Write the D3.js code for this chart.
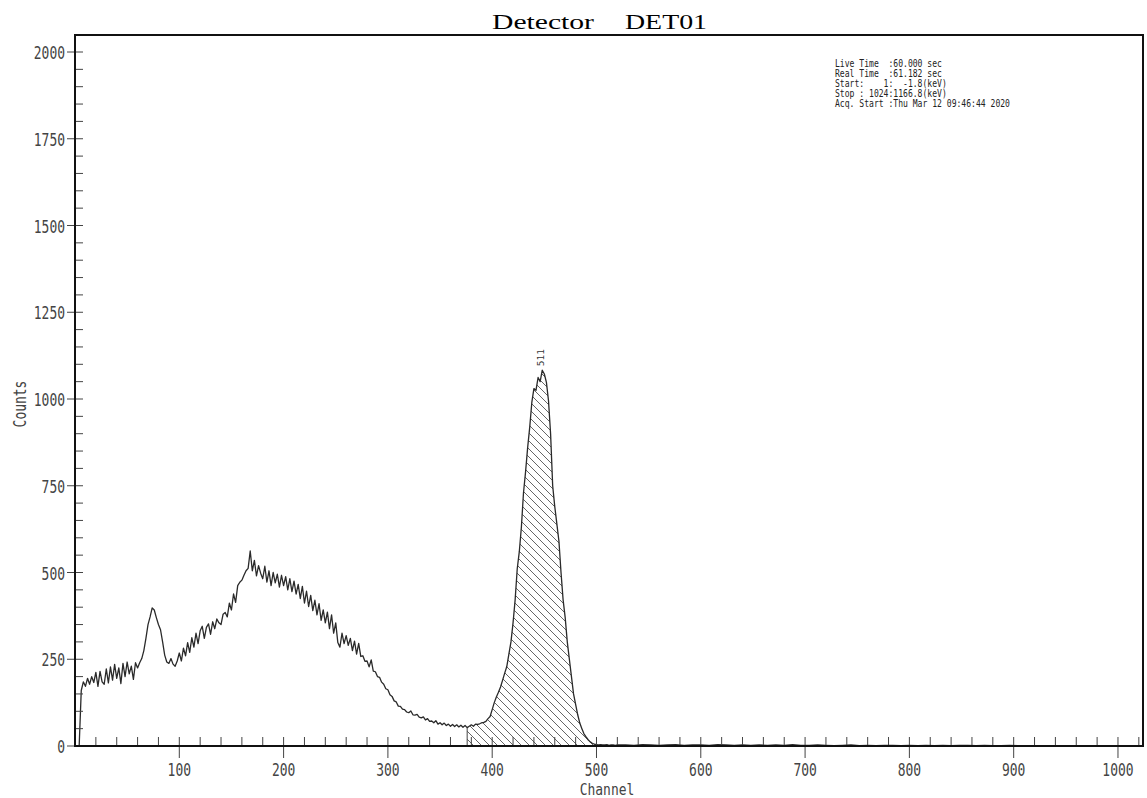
<html>
<head>
<script src="https://d3js.org/d3.v7.min.js" charset="utf-8"></script>
<style>
  body{ margin:0; background:#fff; }
  text{ white-space:pre; }
</style>
</head>
<body>
<script>
// counts for channels 0,2,4 ... 520
const counts = [
  0, 0, 0, 160, 185, 172, 195, 178, 200, 183,
  212, 172, 215, 185, 178, 222, 182, 228, 190, 235,
  195, 225, 180, 238, 200, 242, 208, 230, 192, 240,
  225, 240, 252, 275, 310, 350, 372, 398, 392, 370,
  350, 335, 300, 262, 242, 238, 252, 236, 230, 245,
  268, 245, 282, 260, 298, 270, 312, 285, 325, 295,
  332, 345, 310, 342, 352, 322, 358, 338, 366, 355,
  350, 380, 385, 372, 412, 392, 438, 414, 462, 472,
  478, 492, 505, 512, 562, 505, 535, 490, 520, 498,
  482, 518, 472, 505, 462, 500, 470, 495, 458, 492,
  462, 488, 450, 482, 445, 475, 438, 466, 425, 460,
  412, 446, 402, 434, 390, 420, 378, 410, 362, 392,
  355, 386, 338, 378, 325, 355, 298, 285, 325, 295,
  318, 290, 310, 275, 302, 265, 296, 258, 260, 244,
  245, 228, 248, 216, 214, 200, 198, 184, 178, 165,
  162, 148, 143, 130, 127, 115, 114, 106, 105, 98,
  96, 101, 90, 89, 91, 83, 81, 84, 75, 79,
  71, 72, 67, 73, 63, 67, 61, 66, 59, 63,
  57, 62, 56, 61, 55, 60, 54, 59, 53, 57,
  61, 57, 63, 62, 64, 67, 68, 71, 79, 85,
  105, 125, 141, 155, 170, 190, 210, 229, 265, 300,
  355, 421, 510, 560, 631, 729, 790, 860, 919, 990,
  1030, 1025, 1062, 1050, 1083, 1072, 1048, 995, 900, 750,
  690, 640, 590, 500, 421, 370, 300, 250, 200, 150,
  120, 90, 66, 50, 35, 26, 18, 12, 8, 5,
  4, 3, 4, 3, 3, 4, 2, 3, 3, 2,
  3
];
// tail, channels 528,536 ... 1024
const tailCounts = [
  3, 2, 4, 3, 2, 3, 4, 2, 3, 3, 2, 4, 3, 2, 3, 2, 3, 2, 3, 2,
  4, 2, 2, 3, 2, 1, 2, 3, 1, 2, 1, 2, 2, 1, 2, 1, 2, 1, 2, 1,
  2, 2, 1, 2, 1, 1, 2, 1, 1, 1, 0, 1, 1, 0, 1, 0, 1, 0, 1, 0,
  1, 0, 0
];
const roi = [376, 500];
const peakLabel = {ch: 447, count: 1083, text: '511'};
const xMajor = [100, 200, 300, 400, 500, 600, 700, 800, 900, 1000];
const yMajor = [0, 250, 500, 750, 1000, 1250, 1500, 1750, 2000];
const info = [
  'Live Time  :60.000 sec',
  'Real Time  :61.182 sec',
  'Start:    1:  -1.8(keV)',
  'Stop : 1024:1166.8(keV)',
  'Acq. Start :Thu Mar 12 09:46:44 2020'
];

const W = 1147, H = 798;
const pL = 75, pR = 1143, pT = 35, pB = 746;

const data = counts.map((c, i) => [i * 2, c])
  .concat(tailCounts.map((c, i) => [528 + i * 8, c]));

const x = d3.scaleLinear().domain([0, 1024]).range([pL, pR]);
const y = d3.scaleLinear().domain([0, 2000]).range([pB, 52]);

const svg = d3.select('body').append('svg')
  .attr('width', W).attr('height', H)
  .style('background', '#fff');

const mono = 'DejaVu Sans Mono';
const cw = 7.8;   // squeezed char width for axis text

// hatch
const pat = svg.append('defs').append('pattern')
  .attr('id', 'hatch').attr('patternUnits', 'userSpaceOnUse')
  .attr('width', 8).attr('height', 8);
pat.append('path')
  .attr('d', 'M0,0 L8,8 M-2,6 L2,10 M6,-2 L10,2')
  .attr('stroke', '#555').attr('stroke-width', 0.9);

const roiData = data.filter(d => d[0] >= roi[0] && d[0] <= roi[1]);
svg.append('path')
  .datum(roiData)
  .attr('d', d3.area().x(d => x(d[0])).y0(y(0)).y1(d => y(d[1])))
  .attr('fill', 'url(#hatch)');
svg.append('line')
  .attr('x1', x(roi[0])).attr('x2', x(roi[0]))
  .attr('y1', y(0)).attr('y2', y(roiData[0][1]))
  .attr('stroke', '#444').attr('stroke-width', 1);

// spectrum
svg.append('path')
  .datum(data)
  .attr('d', d3.line().x(d => x(d[0])).y(d => y(d[1])))
  .attr('fill', 'none')
  .attr('stroke', '#2a2a2a')
  .attr('stroke-width', 1.3)
  .attr('stroke-linejoin', 'round');

// x ticks
const xMinor = d3.range(20, 1024, 20);
svg.append('g').selectAll('line')
  .data(xMinor).enter().append('line')
  .attr('x1', d => x(d)).attr('x2', d => x(d))
  .attr('y1', pB - 9)
  .attr('y2', d => d % 100 === 0 ? pB + 12 : pB)
  .attr('stroke', '#444').attr('stroke-width', 1);

svg.append('g').selectAll('text')
  .data(xMajor).enter().append('text')
  .attr('x', d => x(d)).attr('y', 776)
  .attr('text-anchor', 'middle')
  .attr('font-family', mono).attr('font-size', 18)
  .attr('textLength', d => String(d).length * cw)
  .attr('lengthAdjust', 'spacingAndGlyphs')
  .attr('fill', '#444')
  .text(d => d);

// y ticks
const yMinor = d3.range(50, 2001, 50);
svg.append('g').selectAll('line')
  .data(yMinor).enter().append('line')
  .attr('y1', d => y(d)).attr('y2', d => y(d))
  .attr('x1', d => d % 250 === 0 ? pL - 8 : pL)
  .attr('x2', pL + 8)
  .attr('stroke', '#444').attr('stroke-width', 1);
svg.append('line')
  .attr('x1', pL - 8).attr('x2', pL).attr('y1', y(0)).attr('y2', y(0))
  .attr('stroke', '#444');

svg.append('g').selectAll('text')
  .data(yMajor).enter().append('text')
  .attr('x', pL - 10).attr('y', d => y(d) + 7)
  .attr('text-anchor', 'end')
  .attr('font-family', mono).attr('font-size', 18)
  .attr('textLength', d => String(d).length * cw)
  .attr('lengthAdjust', 'spacingAndGlyphs')
  .attr('fill', '#444')
  .text(d => d);

// frame
svg.append('rect')
  .attr('x', pL).attr('y', pT)
  .attr('width', pR - pL).attr('height', pB - pT)
  .attr('fill', 'none').attr('stroke', '#111').attr('stroke-width', 2);

// axis titles
svg.append('text')
  .attr('x', 607).attr('y', 795)
  .attr('text-anchor', 'middle')
  .attr('font-family', mono).attr('font-size', 16)
  .attr('textLength', 7 * cw).attr('lengthAdjust', 'spacingAndGlyphs')
  .attr('fill', '#444')
  .text('Channel');

svg.append('text')
  .attr('transform', 'translate(26,404) rotate(-90)')
  .attr('text-anchor', 'middle')
  .attr('font-family', mono).attr('font-size', 17)
  .attr('textLength', 6 * cw).attr('lengthAdjust', 'spacingAndGlyphs')
  .attr('fill', '#444')
  .text('Counts');

// title
svg.append('text')
  .attr('x', 492).attr('y', 29)
  .attr('font-family', 'Liberation Serif').attr('font-size', 21)
  .attr('textLength', 102).attr('lengthAdjust', 'spacingAndGlyphs')
  .text('Detector');
svg.append('text')
  .attr('x', 625).attr('y', 29)
  .attr('font-family', 'Liberation Serif').attr('font-size', 21)
  .attr('textLength', 82).attr('lengthAdjust', 'spacingAndGlyphs')
  .text('DET01');

// info block
svg.append('g').selectAll('text')
  .data(info).enter().append('text')
  .attr('x', 835).attr('y', (d, i) => 67 + i * 10)
  .attr('font-family', mono).attr('font-size', 10.5)
  .attr('textLength', d => d.length * 4.86)
  .attr('lengthAdjust', 'spacingAndGlyphs')
  .attr('fill', '#222')
  .text(d => d);

// peak label
svg.append('text')
  .attr('transform', 'translate(' + (x(peakLabel.ch) + 3) + ',' + (y(peakLabel.count) - 4) + ') rotate(-90)')
  .attr('font-family', mono).attr('font-size', 9)
  .attr('textLength', 17).attr('lengthAdjust', 'spacingAndGlyphs')
  .attr('fill', '#333')
  .text(peakLabel.text);
</script>
</body>
</html>
